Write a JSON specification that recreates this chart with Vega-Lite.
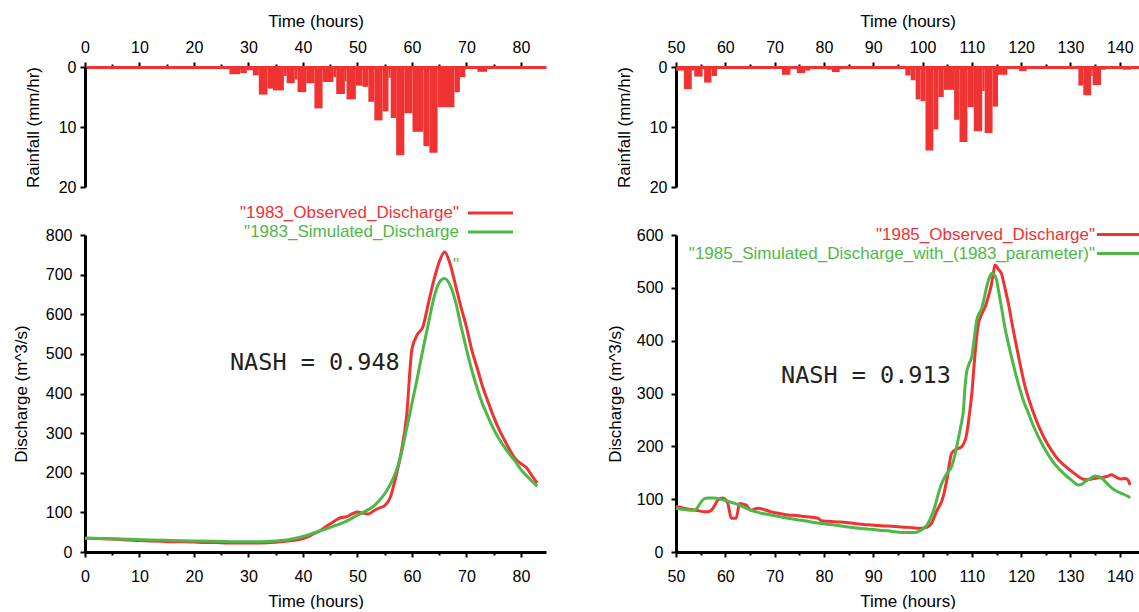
{
  "$schema": "https://vega.github.io/schema/vega-lite/v6.json",
  "background": "white",
  "padding": {"left": 12, "top": 12, "right": 0, "bottom": 0},
  "columns": 2,
  "spacing": {"row": 48, "column": 130},
  "bounds": "flush",
  "resolve": {"scale": {"color": "independent"}},
  "datasets": {
    "rain1983": [
      {"t0": 25.3, "t1": 26.5, "rain": 0.3},
      {"t0": 26.5, "t1": 28.5, "rain": 1.2},
      {"t0": 28.5, "t1": 29.7, "rain": 1.0},
      {"t0": 29.7, "t1": 30.8, "rain": 0.55},
      {"t0": 30.8, "t1": 31.9, "rain": 1.4},
      {"t0": 31.9, "t1": 33.5, "rain": 4.6},
      {"t0": 33.5, "t1": 34.5, "rain": 3.6},
      {"t0": 34.5, "t1": 36.5, "rain": 3.9},
      {"t0": 36.5, "t1": 37.0, "rain": 1.5},
      {"t0": 37.0, "t1": 38.5, "rain": 2.7},
      {"t0": 38.5, "t1": 39.0, "rain": 2.1},
      {"t0": 39.0, "t1": 40.6, "rain": 4.2},
      {"t0": 40.6, "t1": 42.1, "rain": 2.7},
      {"t0": 42.1, "t1": 43.6, "rain": 6.9},
      {"t0": 43.6, "t1": 45.6, "rain": 2.5},
      {"t0": 45.6, "t1": 46.1, "rain": 1.7},
      {"t0": 46.1, "t1": 47.7, "rain": 4.5},
      {"t0": 47.7, "t1": 48.0, "rain": 2.4},
      {"t0": 48.0, "t1": 49.7, "rain": 5.4},
      {"t0": 49.7, "t1": 50.9, "rain": 3.1},
      {"t0": 50.9, "t1": 52.0, "rain": 3.3},
      {"t0": 52.0, "t1": 53.1, "rain": 5.8},
      {"t0": 53.1, "t1": 54.6, "rain": 8.9},
      {"t0": 54.6, "t1": 55.7, "rain": 7.4},
      {"t0": 55.7, "t1": 56.1, "rain": 1.8},
      {"t0": 56.1, "t1": 57.1, "rain": 8.5},
      {"t0": 57.1, "t1": 58.6, "rain": 14.7},
      {"t0": 58.6, "t1": 60.1, "rain": 7.7},
      {"t0": 60.1, "t1": 62.1, "rain": 10.8},
      {"t0": 62.1, "t1": 63.2, "rain": 13.2},
      {"t0": 63.2, "t1": 64.7, "rain": 14.3},
      {"t0": 64.7, "t1": 67.8, "rain": 6.7},
      {"t0": 67.8, "t1": 68.8, "rain": 4.2},
      {"t0": 68.8, "t1": 69.8, "rain": 1.7},
      {"t0": 69.8, "t1": 70.5, "rain": 0.2},
      {"t0": 72.0, "t1": 73.8, "rain": 0.8}
    ],
    "rain1985": [
      {"t0": 50.0, "t1": 51.6, "rain": 0.6},
      {"t0": 51.6, "t1": 53.2, "rain": 3.7},
      {"t0": 53.2, "t1": 53.7, "rain": 0.6},
      {"t0": 53.7, "t1": 55.4, "rain": 1.6},
      {"t0": 55.4, "t1": 55.7, "rain": 0.4},
      {"t0": 55.7, "t1": 57.2, "rain": 2.6},
      {"t0": 57.2, "t1": 58.3, "rain": 1.5},
      {"t0": 58.3, "t1": 59.6, "rain": 0.2},
      {"t0": 59.6, "t1": 61.3, "rain": 0.3},
      {"t0": 71.5, "t1": 73.2, "rain": 1.3},
      {"t0": 74.5, "t1": 76.2, "rain": 1.0},
      {"t0": 76.2, "t1": 77.2, "rain": 0.6},
      {"t0": 80.6, "t1": 81.6, "rain": 0.45},
      {"t0": 81.6, "t1": 83.2, "rain": 0.85},
      {"t0": 96.5, "t1": 97.6, "rain": 1.4},
      {"t0": 97.6, "t1": 98.6, "rain": 2.2},
      {"t0": 98.6, "t1": 99.6, "rain": 5.4},
      {"t0": 99.6, "t1": 100.6, "rain": 5.7},
      {"t0": 100.6, "t1": 102.2, "rain": 13.9},
      {"t0": 102.2, "t1": 103.2, "rain": 10.4},
      {"t0": 103.2, "t1": 104.3, "rain": 5.0},
      {"t0": 104.3, "t1": 106.4, "rain": 3.8},
      {"t0": 106.4, "t1": 107.5, "rain": 8.8},
      {"t0": 107.5, "t1": 109.1, "rain": 12.5},
      {"t0": 109.1, "t1": 110.4, "rain": 6.7},
      {"t0": 110.4, "t1": 112.1, "rain": 10.7},
      {"t0": 112.1, "t1": 112.6, "rain": 4.0},
      {"t0": 112.6, "t1": 114.2, "rain": 11.0},
      {"t0": 114.2, "t1": 115.3, "rain": 6.6},
      {"t0": 115.3, "t1": 117.2, "rain": 1.3},
      {"t0": 119.6, "t1": 121.1, "rain": 0.7},
      {"t0": 131.6, "t1": 132.6, "rain": 3.1},
      {"t0": 132.6, "t1": 134.2, "rain": 4.7},
      {"t0": 134.2, "t1": 134.5, "rain": 1.5},
      {"t0": 134.5, "t1": 136.2, "rain": 3.0},
      {"t0": 136.2, "t1": 137.2, "rain": 0.45},
      {"t0": 140.6, "t1": 142.3, "rain": 0.45}
    ],
    "q1983": [
      {"series": "1983_Observed_Discharge", "t": 0, "q": 35},
      {"series": "1983_Observed_Discharge", "t": 2, "q": 34},
      {"series": "1983_Observed_Discharge", "t": 4, "q": 33},
      {"series": "1983_Observed_Discharge", "t": 6, "q": 32},
      {"series": "1983_Observed_Discharge", "t": 8, "q": 30},
      {"series": "1983_Observed_Discharge", "t": 10, "q": 29},
      {"series": "1983_Observed_Discharge", "t": 12, "q": 28},
      {"series": "1983_Observed_Discharge", "t": 14, "q": 27},
      {"series": "1983_Observed_Discharge", "t": 16, "q": 26},
      {"series": "1983_Observed_Discharge", "t": 18, "q": 26},
      {"series": "1983_Observed_Discharge", "t": 20, "q": 25},
      {"series": "1983_Observed_Discharge", "t": 22, "q": 24},
      {"series": "1983_Observed_Discharge", "t": 24, "q": 24},
      {"series": "1983_Observed_Discharge", "t": 26, "q": 23},
      {"series": "1983_Observed_Discharge", "t": 28, "q": 23},
      {"series": "1983_Observed_Discharge", "t": 30, "q": 23},
      {"series": "1983_Observed_Discharge", "t": 32, "q": 23},
      {"series": "1983_Observed_Discharge", "t": 34, "q": 24},
      {"series": "1983_Observed_Discharge", "t": 36, "q": 26},
      {"series": "1983_Observed_Discharge", "t": 38, "q": 29},
      {"series": "1983_Observed_Discharge", "t": 40, "q": 34},
      {"series": "1983_Observed_Discharge", "t": 41, "q": 39},
      {"series": "1983_Observed_Discharge", "t": 42, "q": 46},
      {"series": "1983_Observed_Discharge", "t": 43, "q": 53},
      {"series": "1983_Observed_Discharge", "t": 44, "q": 62},
      {"series": "1983_Observed_Discharge", "t": 45, "q": 71},
      {"series": "1983_Observed_Discharge", "t": 46, "q": 80},
      {"series": "1983_Observed_Discharge", "t": 47, "q": 87},
      {"series": "1983_Observed_Discharge", "t": 48, "q": 89},
      {"series": "1983_Observed_Discharge", "t": 49, "q": 96},
      {"series": "1983_Observed_Discharge", "t": 50, "q": 101},
      {"series": "1983_Observed_Discharge", "t": 51, "q": 98},
      {"series": "1983_Observed_Discharge", "t": 52, "q": 96},
      {"series": "1983_Observed_Discharge", "t": 53, "q": 104},
      {"series": "1983_Observed_Discharge", "t": 54, "q": 111},
      {"series": "1983_Observed_Discharge", "t": 55, "q": 117},
      {"series": "1983_Observed_Discharge", "t": 56, "q": 137},
      {"series": "1983_Observed_Discharge", "t": 57, "q": 187},
      {"series": "1983_Observed_Discharge", "t": 58, "q": 250},
      {"series": "1983_Observed_Discharge", "t": 59, "q": 340},
      {"series": "1983_Observed_Discharge", "t": 60, "q": 512},
      {"series": "1983_Observed_Discharge", "t": 61, "q": 549},
      {"series": "1983_Observed_Discharge", "t": 62, "q": 568},
      {"series": "1983_Observed_Discharge", "t": 63, "q": 627},
      {"series": "1983_Observed_Discharge", "t": 64, "q": 685},
      {"series": "1983_Observed_Discharge", "t": 65, "q": 732},
      {"series": "1983_Observed_Discharge", "t": 66, "q": 757},
      {"series": "1983_Observed_Discharge", "t": 67, "q": 727},
      {"series": "1983_Observed_Discharge", "t": 68, "q": 673},
      {"series": "1983_Observed_Discharge", "t": 69, "q": 618},
      {"series": "1983_Observed_Discharge", "t": 70, "q": 568},
      {"series": "1983_Observed_Discharge", "t": 71, "q": 509},
      {"series": "1983_Observed_Discharge", "t": 72, "q": 463},
      {"series": "1983_Observed_Discharge", "t": 73, "q": 416},
      {"series": "1983_Observed_Discharge", "t": 74, "q": 378},
      {"series": "1983_Observed_Discharge", "t": 75, "q": 341},
      {"series": "1983_Observed_Discharge", "t": 76, "q": 309},
      {"series": "1983_Observed_Discharge", "t": 77, "q": 282},
      {"series": "1983_Observed_Discharge", "t": 78, "q": 256},
      {"series": "1983_Observed_Discharge", "t": 79, "q": 235},
      {"series": "1983_Observed_Discharge", "t": 80, "q": 223},
      {"series": "1983_Observed_Discharge", "t": 81, "q": 213},
      {"series": "1983_Observed_Discharge", "t": 82, "q": 193},
      {"series": "1983_Observed_Discharge", "t": 83, "q": 174},
      {"series": "1983_Simulated_Discharge", "t": 0, "q": 35},
      {"series": "1983_Simulated_Discharge", "t": 4, "q": 34},
      {"series": "1983_Simulated_Discharge", "t": 8, "q": 32},
      {"series": "1983_Simulated_Discharge", "t": 12, "q": 30},
      {"series": "1983_Simulated_Discharge", "t": 16, "q": 29},
      {"series": "1983_Simulated_Discharge", "t": 20, "q": 28},
      {"series": "1983_Simulated_Discharge", "t": 24, "q": 27},
      {"series": "1983_Simulated_Discharge", "t": 28, "q": 26},
      {"series": "1983_Simulated_Discharge", "t": 32, "q": 26},
      {"series": "1983_Simulated_Discharge", "t": 34, "q": 27},
      {"series": "1983_Simulated_Discharge", "t": 36, "q": 29},
      {"series": "1983_Simulated_Discharge", "t": 38, "q": 33},
      {"series": "1983_Simulated_Discharge", "t": 40, "q": 39},
      {"series": "1983_Simulated_Discharge", "t": 42, "q": 48},
      {"series": "1983_Simulated_Discharge", "t": 44, "q": 57},
      {"series": "1983_Simulated_Discharge", "t": 46, "q": 67},
      {"series": "1983_Simulated_Discharge", "t": 48, "q": 78},
      {"series": "1983_Simulated_Discharge", "t": 50, "q": 93},
      {"series": "1983_Simulated_Discharge", "t": 52, "q": 107},
      {"series": "1983_Simulated_Discharge", "t": 53, "q": 116},
      {"series": "1983_Simulated_Discharge", "t": 54, "q": 130},
      {"series": "1983_Simulated_Discharge", "t": 55, "q": 147},
      {"series": "1983_Simulated_Discharge", "t": 56, "q": 170},
      {"series": "1983_Simulated_Discharge", "t": 57, "q": 200},
      {"series": "1983_Simulated_Discharge", "t": 58, "q": 245},
      {"series": "1983_Simulated_Discharge", "t": 59, "q": 310},
      {"series": "1983_Simulated_Discharge", "t": 60, "q": 375},
      {"series": "1983_Simulated_Discharge", "t": 61, "q": 440},
      {"series": "1983_Simulated_Discharge", "t": 62, "q": 510},
      {"series": "1983_Simulated_Discharge", "t": 63, "q": 575},
      {"series": "1983_Simulated_Discharge", "t": 64, "q": 640},
      {"series": "1983_Simulated_Discharge", "t": 65, "q": 680},
      {"series": "1983_Simulated_Discharge", "t": 66, "q": 690},
      {"series": "1983_Simulated_Discharge", "t": 67, "q": 673},
      {"series": "1983_Simulated_Discharge", "t": 68, "q": 632},
      {"series": "1983_Simulated_Discharge", "t": 69, "q": 570},
      {"series": "1983_Simulated_Discharge", "t": 70, "q": 512},
      {"series": "1983_Simulated_Discharge", "t": 71, "q": 458},
      {"series": "1983_Simulated_Discharge", "t": 72, "q": 412},
      {"series": "1983_Simulated_Discharge", "t": 73, "q": 372},
      {"series": "1983_Simulated_Discharge", "t": 74, "q": 340},
      {"series": "1983_Simulated_Discharge", "t": 75, "q": 310},
      {"series": "1983_Simulated_Discharge", "t": 76, "q": 285},
      {"series": "1983_Simulated_Discharge", "t": 77, "q": 264},
      {"series": "1983_Simulated_Discharge", "t": 78, "q": 245},
      {"series": "1983_Simulated_Discharge", "t": 79, "q": 228},
      {"series": "1983_Simulated_Discharge", "t": 80, "q": 208},
      {"series": "1983_Simulated_Discharge", "t": 81, "q": 193},
      {"series": "1983_Simulated_Discharge", "t": 82, "q": 179},
      {"series": "1983_Simulated_Discharge", "t": 83, "q": 166}
    ],
    "q1985": [
      {"series": "1985_Observed_Discharge", "t": 50, "q": 86},
      {"series": "1985_Observed_Discharge", "t": 52, "q": 82},
      {"series": "1985_Observed_Discharge", "t": 54, "q": 79},
      {"series": "1985_Observed_Discharge", "t": 56, "q": 76},
      {"series": "1985_Observed_Discharge", "t": 57, "q": 78},
      {"series": "1985_Observed_Discharge", "t": 57.5, "q": 83},
      {"series": "1985_Observed_Discharge", "t": 58.5, "q": 98},
      {"series": "1985_Observed_Discharge", "t": 59.5, "q": 102},
      {"series": "1985_Observed_Discharge", "t": 60.5, "q": 92},
      {"series": "1985_Observed_Discharge", "t": 61.2, "q": 64},
      {"series": "1985_Observed_Discharge", "t": 62.2, "q": 64},
      {"series": "1985_Observed_Discharge", "t": 62.9, "q": 92},
      {"series": "1985_Observed_Discharge", "t": 64.2, "q": 89},
      {"series": "1985_Observed_Discharge", "t": 65.2, "q": 79},
      {"series": "1985_Observed_Discharge", "t": 66.6, "q": 83},
      {"series": "1985_Observed_Discharge", "t": 68, "q": 80},
      {"series": "1985_Observed_Discharge", "t": 69.3, "q": 76},
      {"series": "1985_Observed_Discharge", "t": 71, "q": 73},
      {"series": "1985_Observed_Discharge", "t": 72.7, "q": 70},
      {"series": "1985_Observed_Discharge", "t": 74.5, "q": 69},
      {"series": "1985_Observed_Discharge", "t": 76.1, "q": 67},
      {"series": "1985_Observed_Discharge", "t": 78.8, "q": 64},
      {"series": "1985_Observed_Discharge", "t": 79.5, "q": 59},
      {"series": "1985_Observed_Discharge", "t": 81, "q": 58},
      {"series": "1985_Observed_Discharge", "t": 82.9, "q": 57},
      {"series": "1985_Observed_Discharge", "t": 84.5, "q": 56},
      {"series": "1985_Observed_Discharge", "t": 86.2, "q": 54},
      {"series": "1985_Observed_Discharge", "t": 88, "q": 52},
      {"series": "1985_Observed_Discharge", "t": 89.6, "q": 51},
      {"series": "1985_Observed_Discharge", "t": 91, "q": 50},
      {"series": "1985_Observed_Discharge", "t": 93, "q": 49},
      {"series": "1985_Observed_Discharge", "t": 95, "q": 48},
      {"series": "1985_Observed_Discharge", "t": 96.4, "q": 47},
      {"series": "1985_Observed_Discharge", "t": 98, "q": 46},
      {"series": "1985_Observed_Discharge", "t": 99.1, "q": 45},
      {"series": "1985_Observed_Discharge", "t": 100.5, "q": 46},
      {"series": "1985_Observed_Discharge", "t": 101.8, "q": 54},
      {"series": "1985_Observed_Discharge", "t": 102.8, "q": 76},
      {"series": "1985_Observed_Discharge", "t": 104.2, "q": 105},
      {"series": "1985_Observed_Discharge", "t": 105, "q": 140},
      {"series": "1985_Observed_Discharge", "t": 105.9, "q": 187},
      {"series": "1985_Observed_Discharge", "t": 107, "q": 195},
      {"series": "1985_Observed_Discharge", "t": 107.9, "q": 199},
      {"series": "1985_Observed_Discharge", "t": 108.9, "q": 221},
      {"series": "1985_Observed_Discharge", "t": 109.5, "q": 260},
      {"series": "1985_Observed_Discharge", "t": 110, "q": 300},
      {"series": "1985_Observed_Discharge", "t": 110.6, "q": 370},
      {"series": "1985_Observed_Discharge", "t": 111.3, "q": 430},
      {"series": "1985_Observed_Discharge", "t": 112, "q": 450},
      {"series": "1985_Observed_Discharge", "t": 112.7, "q": 464},
      {"series": "1985_Observed_Discharge", "t": 113.4, "q": 485},
      {"series": "1985_Observed_Discharge", "t": 114, "q": 508},
      {"series": "1985_Observed_Discharge", "t": 114.4, "q": 530},
      {"series": "1985_Observed_Discharge", "t": 114.7, "q": 543},
      {"series": "1985_Observed_Discharge", "t": 115.4, "q": 535},
      {"series": "1985_Observed_Discharge", "t": 116, "q": 527},
      {"series": "1985_Observed_Discharge", "t": 116.7, "q": 500},
      {"series": "1985_Observed_Discharge", "t": 117.4, "q": 471},
      {"series": "1985_Observed_Discharge", "t": 118.1, "q": 435},
      {"series": "1985_Observed_Discharge", "t": 118.8, "q": 401},
      {"series": "1985_Observed_Discharge", "t": 119.8, "q": 355},
      {"series": "1985_Observed_Discharge", "t": 120.8, "q": 313},
      {"series": "1985_Observed_Discharge", "t": 121.8, "q": 282},
      {"series": "1985_Observed_Discharge", "t": 122.8, "q": 256},
      {"series": "1985_Observed_Discharge", "t": 123.8, "q": 233},
      {"series": "1985_Observed_Discharge", "t": 124.9, "q": 212},
      {"series": "1985_Observed_Discharge", "t": 126.2, "q": 192},
      {"series": "1985_Observed_Discharge", "t": 127.6, "q": 174},
      {"series": "1985_Observed_Discharge", "t": 129, "q": 162},
      {"series": "1985_Observed_Discharge", "t": 130.3, "q": 152},
      {"series": "1985_Observed_Discharge", "t": 131.3, "q": 145},
      {"series": "1985_Observed_Discharge", "t": 132.3, "q": 139},
      {"series": "1985_Observed_Discharge", "t": 133.3, "q": 137},
      {"series": "1985_Observed_Discharge", "t": 134.3, "q": 138},
      {"series": "1985_Observed_Discharge", "t": 135.4, "q": 140},
      {"series": "1985_Observed_Discharge", "t": 136.4, "q": 141},
      {"series": "1985_Observed_Discharge", "t": 137.4, "q": 143},
      {"series": "1985_Observed_Discharge", "t": 138.3, "q": 146},
      {"series": "1985_Observed_Discharge", "t": 139.2, "q": 142},
      {"series": "1985_Observed_Discharge", "t": 140.1, "q": 138},
      {"series": "1985_Observed_Discharge", "t": 141.1, "q": 139},
      {"series": "1985_Observed_Discharge", "t": 141.6, "q": 137},
      {"series": "1985_Observed_Discharge", "t": 142.1, "q": 127},
      {"series": "1985_Simulated_Discharge_with_(1983_parameter)", "t": 50, "q": 83},
      {"series": "1985_Simulated_Discharge_with_(1983_parameter)", "t": 52, "q": 80},
      {"series": "1985_Simulated_Discharge_with_(1983_parameter)", "t": 53.7, "q": 79},
      {"series": "1985_Simulated_Discharge_with_(1983_parameter)", "t": 54.5, "q": 86},
      {"series": "1985_Simulated_Discharge_with_(1983_parameter)", "t": 55.1, "q": 95},
      {"series": "1985_Simulated_Discharge_with_(1983_parameter)", "t": 55.8, "q": 101},
      {"series": "1985_Simulated_Discharge_with_(1983_parameter)", "t": 56.4, "q": 102},
      {"series": "1985_Simulated_Discharge_with_(1983_parameter)", "t": 57.5, "q": 102},
      {"series": "1985_Simulated_Discharge_with_(1983_parameter)", "t": 59.1, "q": 100},
      {"series": "1985_Simulated_Discharge_with_(1983_parameter)", "t": 60.5, "q": 96},
      {"series": "1985_Simulated_Discharge_with_(1983_parameter)", "t": 61.9, "q": 92},
      {"series": "1985_Simulated_Discharge_with_(1983_parameter)", "t": 63.5, "q": 86},
      {"series": "1985_Simulated_Discharge_with_(1983_parameter)", "t": 65.2, "q": 79},
      {"series": "1985_Simulated_Discharge_with_(1983_parameter)", "t": 67, "q": 74},
      {"series": "1985_Simulated_Discharge_with_(1983_parameter)", "t": 69.3, "q": 70},
      {"series": "1985_Simulated_Discharge_with_(1983_parameter)", "t": 71, "q": 67},
      {"series": "1985_Simulated_Discharge_with_(1983_parameter)", "t": 72.7, "q": 64},
      {"series": "1985_Simulated_Discharge_with_(1983_parameter)", "t": 74.5, "q": 61},
      {"series": "1985_Simulated_Discharge_with_(1983_parameter)", "t": 76.1, "q": 59},
      {"series": "1985_Simulated_Discharge_with_(1983_parameter)", "t": 78, "q": 56},
      {"series": "1985_Simulated_Discharge_with_(1983_parameter)", "t": 79.5, "q": 54},
      {"series": "1985_Simulated_Discharge_with_(1983_parameter)", "t": 81.2, "q": 52},
      {"series": "1985_Simulated_Discharge_with_(1983_parameter)", "t": 82.9, "q": 50},
      {"series": "1985_Simulated_Discharge_with_(1983_parameter)", "t": 84.5, "q": 48},
      {"series": "1985_Simulated_Discharge_with_(1983_parameter)", "t": 86.2, "q": 46},
      {"series": "1985_Simulated_Discharge_with_(1983_parameter)", "t": 88, "q": 44},
      {"series": "1985_Simulated_Discharge_with_(1983_parameter)", "t": 89.6, "q": 43},
      {"series": "1985_Simulated_Discharge_with_(1983_parameter)", "t": 91.3, "q": 41},
      {"series": "1985_Simulated_Discharge_with_(1983_parameter)", "t": 93, "q": 40},
      {"series": "1985_Simulated_Discharge_with_(1983_parameter)", "t": 94.7, "q": 38},
      {"series": "1985_Simulated_Discharge_with_(1983_parameter)", "t": 96.4, "q": 37},
      {"series": "1985_Simulated_Discharge_with_(1983_parameter)", "t": 98.4, "q": 37},
      {"series": "1985_Simulated_Discharge_with_(1983_parameter)", "t": 99.2, "q": 39},
      {"series": "1985_Simulated_Discharge_with_(1983_parameter)", "t": 99.8, "q": 42},
      {"series": "1985_Simulated_Discharge_with_(1983_parameter)", "t": 100.5, "q": 47},
      {"series": "1985_Simulated_Discharge_with_(1983_parameter)", "t": 101.1, "q": 54},
      {"series": "1985_Simulated_Discharge_with_(1983_parameter)", "t": 101.8, "q": 68},
      {"series": "1985_Simulated_Discharge_with_(1983_parameter)", "t": 102.5, "q": 86},
      {"series": "1985_Simulated_Discharge_with_(1983_parameter)", "t": 103.2, "q": 110},
      {"series": "1985_Simulated_Discharge_with_(1983_parameter)", "t": 103.9, "q": 130},
      {"series": "1985_Simulated_Discharge_with_(1983_parameter)", "t": 104.9, "q": 148},
      {"series": "1985_Simulated_Discharge_with_(1983_parameter)", "t": 105.9, "q": 162},
      {"series": "1985_Simulated_Discharge_with_(1983_parameter)", "t": 106.6, "q": 185},
      {"series": "1985_Simulated_Discharge_with_(1983_parameter)", "t": 107.2, "q": 212},
      {"series": "1985_Simulated_Discharge_with_(1983_parameter)", "t": 107.8, "q": 240},
      {"series": "1985_Simulated_Discharge_with_(1983_parameter)", "t": 108.3, "q": 269},
      {"series": "1985_Simulated_Discharge_with_(1983_parameter)", "t": 108.6, "q": 310},
      {"series": "1985_Simulated_Discharge_with_(1983_parameter)", "t": 108.9, "q": 338},
      {"series": "1985_Simulated_Discharge_with_(1983_parameter)", "t": 109.4, "q": 355},
      {"series": "1985_Simulated_Discharge_with_(1983_parameter)", "t": 110, "q": 370},
      {"series": "1985_Simulated_Discharge_with_(1983_parameter)", "t": 110.5, "q": 405},
      {"series": "1985_Simulated_Discharge_with_(1983_parameter)", "t": 111, "q": 439},
      {"series": "1985_Simulated_Discharge_with_(1983_parameter)", "t": 111.5, "q": 452},
      {"series": "1985_Simulated_Discharge_with_(1983_parameter)", "t": 112, "q": 461},
      {"series": "1985_Simulated_Discharge_with_(1983_parameter)", "t": 112.5, "q": 480},
      {"series": "1985_Simulated_Discharge_with_(1983_parameter)", "t": 113, "q": 502},
      {"series": "1985_Simulated_Discharge_with_(1983_parameter)", "t": 113.5, "q": 518},
      {"series": "1985_Simulated_Discharge_with_(1983_parameter)", "t": 114, "q": 527},
      {"series": "1985_Simulated_Discharge_with_(1983_parameter)", "t": 114.5, "q": 525},
      {"series": "1985_Simulated_Discharge_with_(1983_parameter)", "t": 115, "q": 515},
      {"series": "1985_Simulated_Discharge_with_(1983_parameter)", "t": 115.5, "q": 490},
      {"series": "1985_Simulated_Discharge_with_(1983_parameter)", "t": 116.1, "q": 458},
      {"series": "1985_Simulated_Discharge_with_(1983_parameter)", "t": 116.7, "q": 425},
      {"series": "1985_Simulated_Discharge_with_(1983_parameter)", "t": 117.4, "q": 395},
      {"series": "1985_Simulated_Discharge_with_(1983_parameter)", "t": 118.4, "q": 355},
      {"series": "1985_Simulated_Discharge_with_(1983_parameter)", "t": 119.4, "q": 319},
      {"series": "1985_Simulated_Discharge_with_(1983_parameter)", "t": 120.4, "q": 288},
      {"series": "1985_Simulated_Discharge_with_(1983_parameter)", "t": 121.5, "q": 262},
      {"series": "1985_Simulated_Discharge_with_(1983_parameter)", "t": 122.5, "q": 238},
      {"series": "1985_Simulated_Discharge_with_(1983_parameter)", "t": 123.5, "q": 218},
      {"series": "1985_Simulated_Discharge_with_(1983_parameter)", "t": 124.8, "q": 195},
      {"series": "1985_Simulated_Discharge_with_(1983_parameter)", "t": 126.2, "q": 174},
      {"series": "1985_Simulated_Discharge_with_(1983_parameter)", "t": 127.5, "q": 159},
      {"series": "1985_Simulated_Discharge_with_(1983_parameter)", "t": 128.9, "q": 146},
      {"series": "1985_Simulated_Discharge_with_(1983_parameter)", "t": 130.2, "q": 136},
      {"series": "1985_Simulated_Discharge_with_(1983_parameter)", "t": 131.6, "q": 127},
      {"series": "1985_Simulated_Discharge_with_(1983_parameter)", "t": 132.3, "q": 128},
      {"series": "1985_Simulated_Discharge_with_(1983_parameter)", "t": 132.9, "q": 133},
      {"series": "1985_Simulated_Discharge_with_(1983_parameter)", "t": 134, "q": 139},
      {"series": "1985_Simulated_Discharge_with_(1983_parameter)", "t": 135, "q": 144},
      {"series": "1985_Simulated_Discharge_with_(1983_parameter)", "t": 135.7, "q": 143},
      {"series": "1985_Simulated_Discharge_with_(1983_parameter)", "t": 136.4, "q": 139},
      {"series": "1985_Simulated_Discharge_with_(1983_parameter)", "t": 137.4, "q": 130},
      {"series": "1985_Simulated_Discharge_with_(1983_parameter)", "t": 138.4, "q": 121},
      {"series": "1985_Simulated_Discharge_with_(1983_parameter)", "t": 139.4, "q": 115},
      {"series": "1985_Simulated_Discharge_with_(1983_parameter)", "t": 140.4, "q": 111},
      {"series": "1985_Simulated_Discharge_with_(1983_parameter)", "t": 141.3, "q": 107},
      {"series": "1985_Simulated_Discharge_with_(1983_parameter)", "t": 142.1, "q": 103}
    ]
  },
  "concat": [
    {
      "width": 461, "height": 120,
      "data": {"name": "rain1983"},
      "mark": {"type": "bar", "color": "#ef3333"},
      "encoding": {
        "x": {"field": "t0", "type": "quantitative", "scale": {"domain": [0, 84.6], "nice": false, "zero": false},
          "axis": {"orient": "top", "title": "Time (hours)", "values": [0,5,10,15,20,25,30,35,40,45,50,55,60,65,70,75,80],
            "labelExpr": "datum.value % 10 === 0 ? datum.label : ''",
            "tickSize": {"condition": {"test": "datum.value % 10 === 0", "value": 5}, "value": 3},
            "domainColor": "#ef3333", "labelPadding": 7, "titlePadding": 9}},
        "x2": {"field": "t1"},
        "y": {"field": "rain", "type": "quantitative", "scale": {"domain": [0, 20], "reverse": true, "nice": false},
          "axis": {"values": [0, 10, 20], "title": "Rainfall (mm/hr)", "labelPadding": 4, "titlePadding": 16, "labelOverlap": false}},
        "y2": {"datum": 0}
      }
    },
    {
      "width": 463, "height": 120,
      "data": {"name": "rain1985"},
      "mark": {"type": "bar", "color": "#ef3333"},
      "encoding": {
        "x": {"field": "t0", "type": "quantitative", "scale": {"domain": [50, 143.9], "nice": false, "zero": false},
          "axis": {"orient": "top", "title": "Time (hours)", "values": [50,55,60,65,70,75,80,85,90,95,100,105,110,115,120,125,130,135,140],
            "labelExpr": "datum.value % 10 === 0 ? datum.label : ''",
            "tickSize": {"condition": {"test": "datum.value % 10 === 0", "value": 5}, "value": 3},
            "domainColor": "#ef3333", "labelPadding": 7, "titlePadding": 9}},
        "x2": {"field": "t1"},
        "y": {"field": "rain", "type": "quantitative", "scale": {"domain": [0, 20], "reverse": true, "nice": false},
          "axis": {"values": [0, 10, 20], "title": "Rainfall (mm/hr)", "labelPadding": 4, "titlePadding": 16, "labelOverlap": false}},
        "y2": {"datum": 0}
      }
    },
    {
      "width": 461, "height": 317,
      "encoding": {
        "x": {"field": "t", "type": "quantitative", "scale": {"domain": [0, 84.6], "nice": false, "zero": false},
          "axis": {"title": "Time (hours)", "values": [0,5,10,15,20,25,30,35,40,45,50,55,60,65,70,75,80],
            "labelExpr": "datum.value % 10 === 0 ? datum.label : ''",
            "tickSize": {"condition": {"test": "datum.value % 10 === 0", "value": 5}, "value": 3},
            "labelPadding": 11, "titlePadding": 9}},
        "y": {"field": "q", "type": "quantitative", "scale": {"domain": [0, 800], "nice": false},
          "axis": {"values": [0,100,200,300,400,500,600,700,800], "title": "Discharge (m^3/s)", "labelPadding": 8, "titlePadding": 15, "labelOverlap": false}}
      },
      "layer": [
        {
          "data": {"name": "q1983"},
          "mark": {"type": "line", "strokeWidth": 3, "interpolate": "monotone"},
          "encoding": {
            "color": {"field": "series", "type": "nominal",
              "scale": {"domain": ["1983_Observed_Discharge", "1983_Simulated_Discharge"], "range": ["#ef3333", "#4db848"]},
              "legend": {"orient": "none", "legendX": 397, "legendY": -30.5, "title": null,
                "symbolType": "M-5,0H5", "symbolSize": 81, "symbolStrokeWidth": 3,
                "labelAlign": "right", "labelOffset": -40, "rowPadding": 1,
                "labelExpr": "datum.label == '1983_Simulated_Discharge' ? '\"' + datum.label : '\"' + datum.label + '\"'",
                "encode": {"labels": {"update": {"fill": {"signal": "datum.value == '1983_Observed_Discharge' ? '#ef3333' : '#4db848'"}}}}}}
          }
        },
        {
          "data": {"values": [{"label": "NASH = 0.948", "t": 26.6, "q": 460}]},
          "mark": {"type": "text", "font": "DejaVu Sans Mono", "fontSize": 23.5, "color": "#222222", "align": "left", "baseline": "alphabetic"},
          "encoding": {"text": {"field": "label"}}
        },
        {
          "data": {"values": [{"label": "\"", "t": 68.1, "q": 712}]},
          "mark": {"type": "text", "font": "Liberation Sans", "fontSize": 17, "color": "#4db848", "align": "center", "baseline": "alphabetic"},
          "encoding": {"text": {"field": "label"}}
        }
      ]
    },
    {
      "width": 463, "height": 317,
      "encoding": {
        "x": {"field": "t", "type": "quantitative", "scale": {"domain": [50, 143.9], "nice": false, "zero": false},
          "axis": {"title": "Time (hours)", "values": [50,55,60,65,70,75,80,85,90,95,100,105,110,115,120,125,130,135,140],
            "labelExpr": "datum.value % 10 === 0 ? datum.label : ''",
            "tickSize": {"condition": {"test": "datum.value % 10 === 0", "value": 5}, "value": 3},
            "labelPadding": 11, "titlePadding": 9}},
        "y": {"field": "q", "type": "quantitative", "scale": {"domain": [0, 600], "nice": false},
          "axis": {"values": [0,100,200,300,400,500,600], "title": "Discharge (m^3/s)", "labelPadding": 8, "titlePadding": 12, "labelOverlap": false}}
      },
      "layer": [
        {
          "data": {"name": "q1985"},
          "mark": {"type": "line", "strokeWidth": 3, "interpolate": "monotone"},
          "encoding": {
            "color": {"field": "series", "type": "nominal",
              "scale": {"domain": ["1985_Observed_Discharge", "1985_Simulated_Discharge_with_(1983_parameter)"], "range": ["#ef3333", "#4db848"]},
              "legend": {"orient": "none", "legendX": 435, "legendY": -9, "title": null,
                "symbolType": "M-5,0H5", "symbolSize": 81, "symbolStrokeWidth": 3,
                "labelAlign": "right", "labelOffset": -33, "rowPadding": 1,
                "labelExpr": "'\"' + datum.label + '\"'",
                "encode": {"labels": {"update": {"fill": {"signal": "datum.value == '1985_Observed_Discharge' ? '#ef3333' : '#4db848'"}}}}}}
          }
        },
        {
          "data": {"values": [{"label": "NASH = 0.913", "t": 71.3, "q": 320}]},
          "mark": {"type": "text", "font": "DejaVu Sans Mono", "fontSize": 23.5, "color": "#222222", "align": "left", "baseline": "alphabetic"},
          "encoding": {"text": {"field": "label"}}
        }
      ]
    }
  ],
  "config": {
    "font": "Liberation Sans",
    "view": {"stroke": null},
    "axis": {
      "grid": false,
      "domainColor": "black", "domainWidth": 3,
      "tickColor": "black", "tickWidth": 2, "tickSize": 5,
      "labelFont": "Liberation Sans", "labelFontSize": 16, "labelColor": "black",
      "labelFlush": false, "labelOverlap": false,
      "titleFont": "Liberation Sans", "titleFontSize": 17, "titleFontWeight": "normal", "titleColor": "black"
    },
    "legend": {
      "padding": 0, "labelLimit": 1000,
      "labelFont": "Liberation Sans", "labelFontSize": 17
    }
  }
}
